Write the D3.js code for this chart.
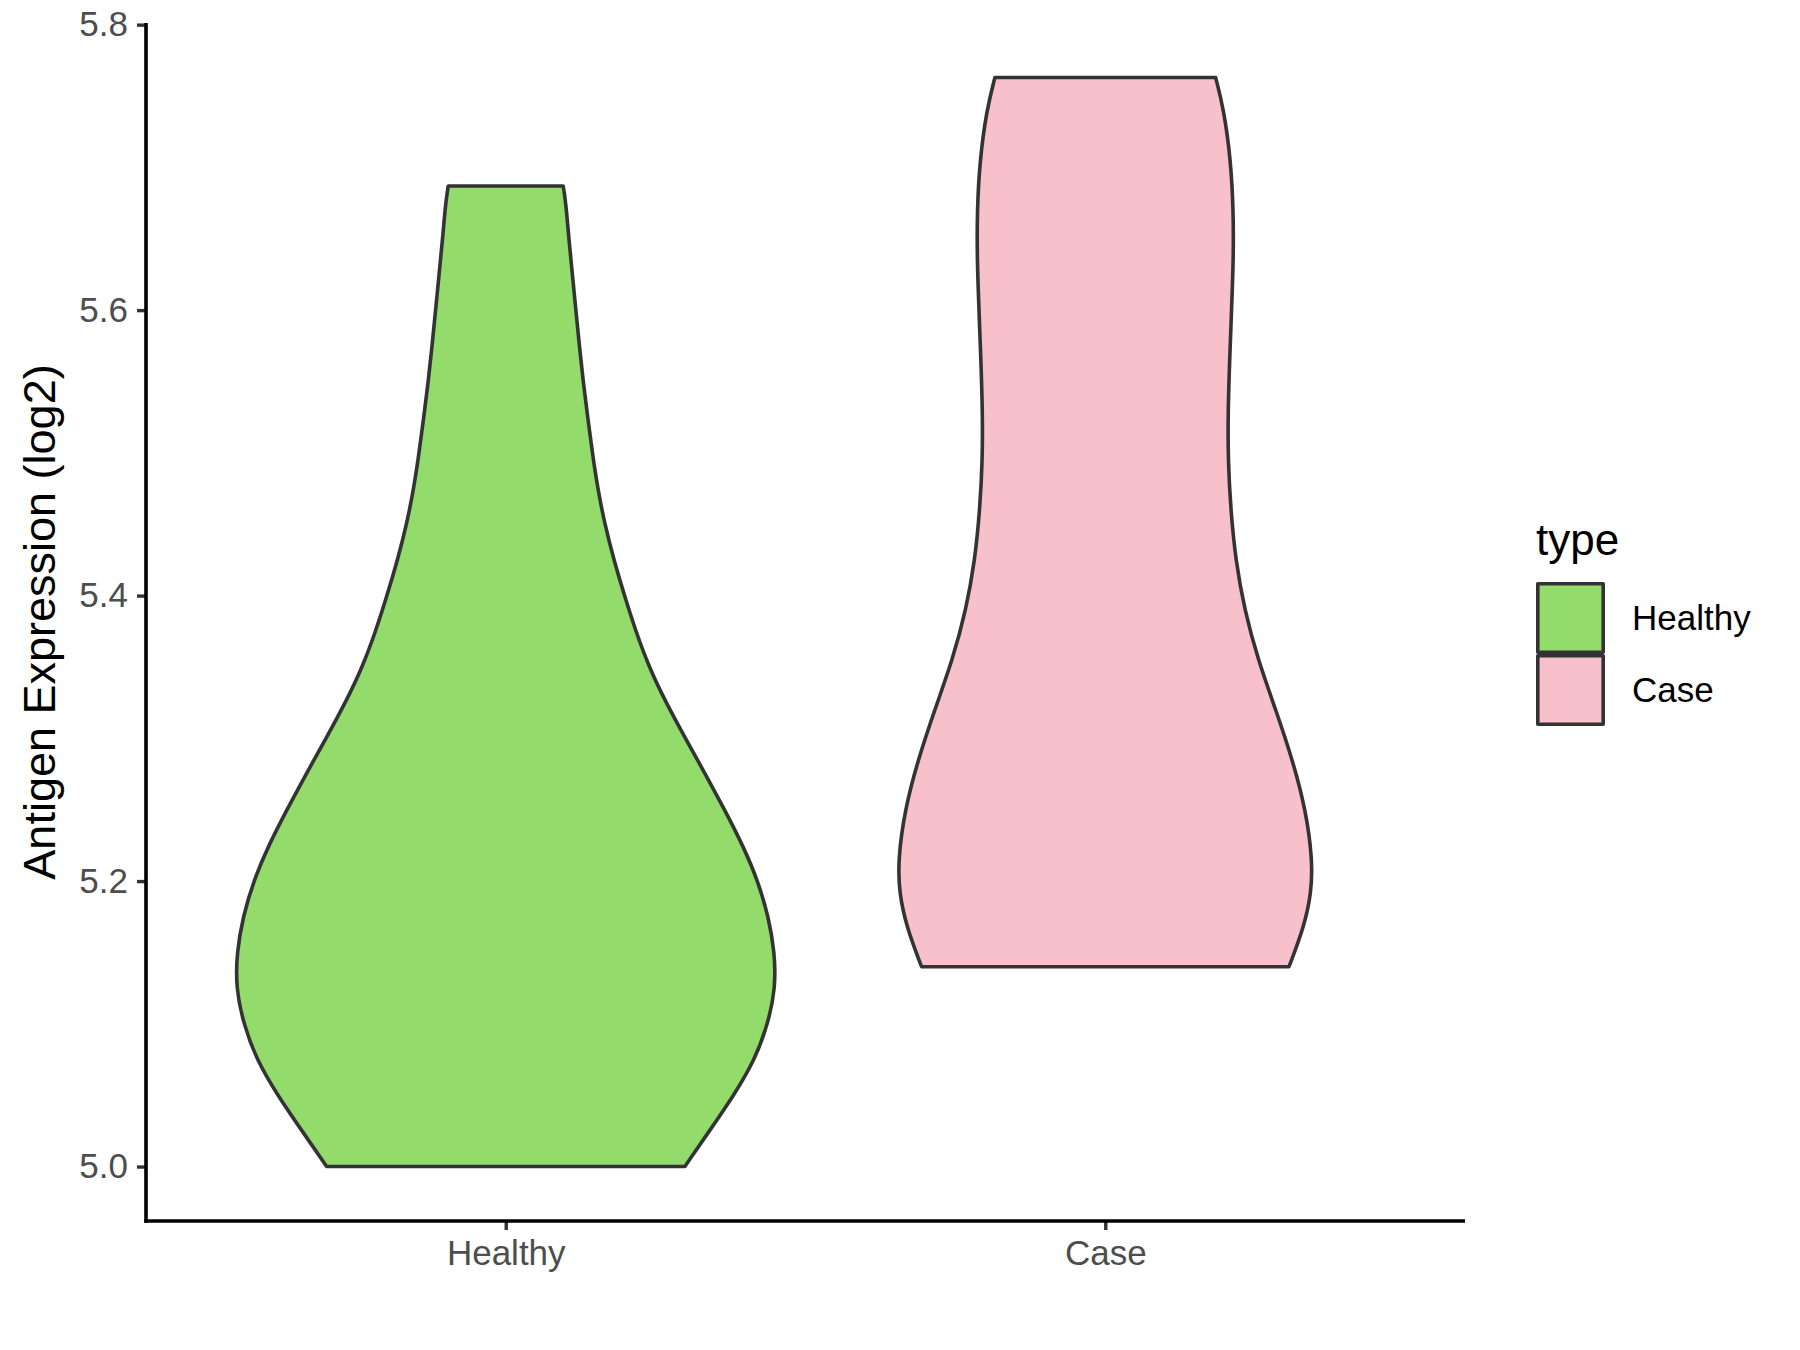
<!DOCTYPE html>
<html>
<head>
<meta charset="utf-8">
<script src="https://cdn.jsdelivr.net/npm/d3@7"></script>
<style>
  html, body { margin: 0; padding: 0; background: #ffffff; }
  svg { display: block; }
  text { font-family: "Liberation Sans", Arial, Helvetica, sans-serif; }
</style>
</head>
<body>
<svg id="chart" width="1800" height="1350"></svg>
<script>
// ---- data ----
const categories = ["Healthy", "Case"];

// estimated density profile (value on y axis, relative density)
const healthyValues  = [5.000, 5.025, 5.050, 5.075, 5.100, 5.125, 5.150, 5.175, 5.200, 5.225, 5.250, 5.275, 5.300, 5.325, 5.350, 5.375, 5.400, 5.425, 5.450, 5.475, 5.500, 5.525, 5.550, 5.575, 5.600, 5.625, 5.650, 5.675, 5.687];
const healthyDensity = [0.664, 0.755, 0.846, 0.924, 0.972, 1.000, 0.997, 0.974, 0.935, 0.879, 0.811, 0.740, 0.666, 0.594, 0.531, 0.482, 0.440, 0.401, 0.367, 0.341, 0.321, 0.304, 0.287, 0.273, 0.260, 0.247, 0.234, 0.223, 0.213];

const caseValues  = [5.140, 5.168, 5.192, 5.215, 5.250, 5.285, 5.320, 5.355, 5.390, 5.425, 5.460, 5.495, 5.530, 5.565, 5.600, 5.635, 5.670, 5.705, 5.740, 5.763];
const caseDensity = [0.681, 0.737, 0.764, 0.768, 0.743, 0.694, 0.632, 0.566, 0.516, 0.483, 0.465, 0.455, 0.455, 0.461, 0.468, 0.475, 0.475, 0.465, 0.440, 0.409];

const yTicks = [5.0, 5.2, 5.4, 5.6, 5.8];
const yTitle = "Antigen Expression (log2)";
const legendTitle = "type";

// ---- layout ----
const svg = d3.select("#chart");
const panel = { left: 146, right: 1465, top: 23, bottom: 1221 };
const fills = { Healthy: "#93DB6B", Case: "#F7C0CB" };
const outline = "#333333";

const groups = [
  { name: "Healthy", pts: healthyValues.map((v, i) => ({ v, d: healthyDensity[i] })) },
  { name: "Case",    pts: caseValues.map((v, i) => ({ v, d: caseDensity[i] })) }
];

const allVals = healthyValues.concat(caseValues);
const vmin = d3.min(allVals), vmax = d3.max(allVals);
const pad = (vmax - vmin) * 0.05;

const y = d3.scaleLinear().domain([vmin - pad, vmax + pad]).range([panel.bottom, panel.top]);
const x = d3.scalePoint().domain(categories).range([panel.left, panel.right]).padding(0.6);
const step = x.step();
const maxD = d3.max(healthyDensity.concat(caseDensity));
const w = d3.scaleLinear().domain([0, maxD]).range([0, 0.45 * step]);

// ---- violins ----
groups.forEach(g => {
  const cx = x(g.name);
  const area = d3.area()
    .y(d => y(d.v))
    .x0(d => cx - w(d.d))
    .x1(d => cx + w(d.d))
    .curve(d3.curveBasis);
  svg.append("path")
    .attr("d", area(g.pts))
    .attr("fill", fills[g.name])
    .attr("stroke", outline)
    .attr("stroke-width", 3.6)
    .attr("stroke-linejoin", "round");
});

// ---- axes ----
const yAxis = d3.axisLeft(y).tickValues(yTicks).tickFormat(d3.format(".1f"))
  .tickSize(9).tickPadding(9).tickSizeOuter(0);
const gy = svg.append("g").attr("transform", `translate(${panel.left},0)`).call(yAxis);
gy.select(".domain").remove();
gy.selectAll(".tick line").attr("stroke", outline).attr("stroke-width", 3.4);
gy.selectAll(".tick text").attr("fill", "#4D4D4D").attr("font-size", 35)
  .attr("font-family", '"Liberation Sans", Arial, sans-serif');

const xAxis = d3.axisBottom(x).tickSize(9).tickPadding(10).tickSizeOuter(0);
const gx = svg.append("g").attr("transform", `translate(0,${panel.bottom})`).call(xAxis);
gx.select(".domain").remove();
gx.selectAll(".tick line").attr("stroke", outline).attr("stroke-width", 3.4);
gx.selectAll(".tick text").attr("fill", "#4D4D4D").attr("font-size", 35)
  .attr("font-family", '"Liberation Sans", Arial, sans-serif');

// axis lines
svg.append("line").attr("x1", panel.left).attr("x2", panel.left)
  .attr("y1", panel.top).attr("y2", panel.bottom + 1.75)
  .attr("stroke", "#000").attr("stroke-width", 3.6);
svg.append("line").attr("x1", panel.left - 1.8).attr("x2", panel.right)
  .attr("y1", panel.bottom).attr("y2", panel.bottom)
  .attr("stroke", "#000").attr("stroke-width", 3.6);

// y title
svg.append("text")
  .attr("transform", `translate(55,${(panel.top + panel.bottom) / 2}) rotate(-90)`)
  .attr("text-anchor", "middle")
  .attr("font-size", 45)
  .attr("fill", "#000")
  .text(yTitle);

// ---- legend ----
const lg = svg.append("g");
lg.append("text").attr("x", 1536).attr("y", 555).attr("font-size", 44).attr("fill", "#000").text(legendTitle);
const keySize = 72, keyTop = 582;
categories.forEach((c, i) => {
  const ky = keyTop + i * keySize;
  lg.append("rect")
    .attr("x", 1536 + 1.8).attr("y", ky + 1.8)
    .attr("width", keySize - 3.6 - 3).attr("height", keySize - 3.6)
    .attr("fill", fills[c]).attr("stroke", outline).attr("stroke-width", 3.6)
    .attr("stroke-linejoin", "round");
  lg.append("text").attr("x", 1632).attr("y", ky + keySize / 2)
    .attr("dy", "0.35em").attr("font-size", 35).attr("fill", "#000").text(c);
});
</script>
</body>
</html>
